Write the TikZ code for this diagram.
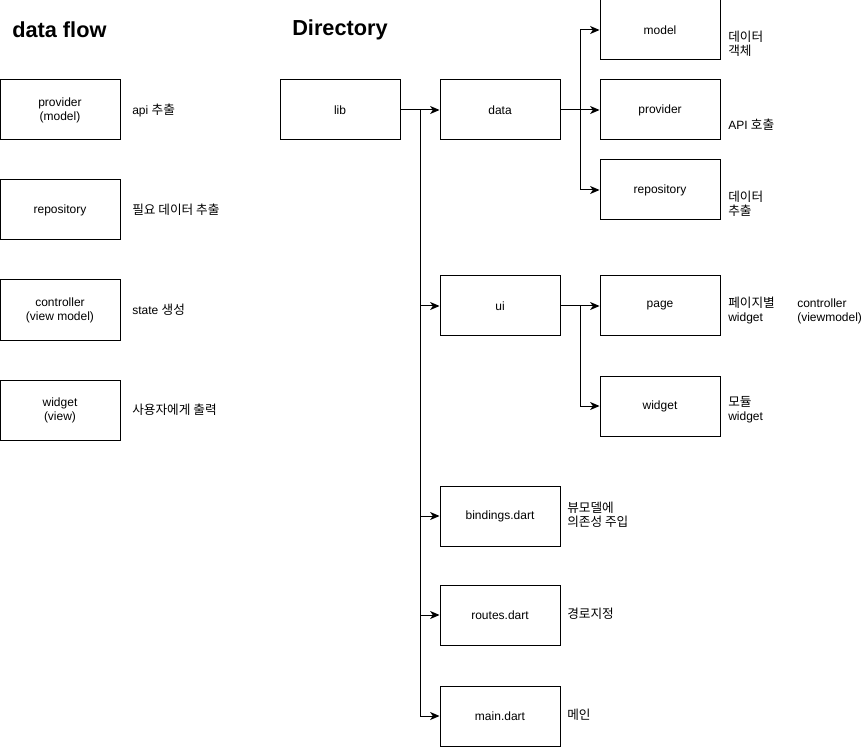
\documentclass[tikz,border=0pt]{standalone}
\usepackage{fontspec}
\setmainfont{Liberation Sans}
\newfontfamily\kr{Noto Sans CJK KR}
\usetikzlibrary{arrows.meta}
\newcommand{\K}[1]{{\kr\fontsize{9.5}{10.5}\selectfont #1}}
\begin{document}
\begin{tikzpicture}[x=0.75pt,y=-0.75pt,
  box/.style={draw, line width=0.75pt, minimum width=90pt, minimum height=45pt, inner sep=0pt,
    font=\fontsize{9}{10.5}\selectfont, align=center},
  lbl/.style={anchor=west, inner sep=0pt, font=\fontsize{9}{10.5}\selectfont, align=left},
  ttl/.style={anchor=west, inner sep=0pt, font=\fontsize{16.3}{19}\selectfont\bfseries},
  conn/.style={line width=0.75pt, -{Stealth[length=7pt,width=6pt,inset=2pt]}},
  wire/.style={line width=0.75pt}]
\useasboundingbox (0,0) rectangle (863,748);
% titles
\node[ttl] (t1) at (12,30) {data flow};
\node[ttl] (t2) at (292,30) {Directory};
% data flow column
\node[box] (pv) at (60,110) {provider\\(model)};
\node[box] (rp) at (60,210) {repository};
\node[box] (ct) at (60,310) {controller\\(view model)};
\node[box] (wg) at (60,410) {widget\\(view)};
\node[lbl] (lpv) at (132,110) {api \K{추출}};
\node[lbl] (lrp) at (132,210) {\K{필요 데이터 추출}};
\node[lbl] (lct) at (132,310) {state \K{생성}};
\node[lbl] (lwg) at (132,410) {\K{사용자에게 출력}};
% directory
\node[box] (lib) at (340,110) {lib};
\node[box] (data) at (500,110) {data};
\node[box] (ui) at (500,306) {ui};
\node[box] (bind) at (500,516) {bindings.dart};
\node[box] (routes) at (500,615) {routes.dart};
\node[box] (main) at (500,716) {main.dart};
\node[box] (model) at (660,30) {model};
\node[box] (prov) at (660,110) {provider};
\node[box] (repo) at (660,190) {repository};
\node[box] (page) at (660,306) {page};
\node[box] (widget) at (660,406) {widget};
% labels
\node[lbl] (lmodel) at (728,44) {\K{데이터}\\\K{객체}};
\node[lbl] (lprov) at (728,125) {API \K{호출}};
\node[lbl] (lrepo) at (728,204) {\K{데이터}\\\K{추출}};
\node[lbl] (lpage) at (728,311) {\K{페이지별}\\widget};
\node[lbl] (lctrl) at (797,311) {controller\\(viewmodel)};
\node[lbl] (lwid) at (728,410) {\K{모듈}\\widget};
\node[lbl] (lbind) at (567,515) {\K{뷰모델에}\\\K{의존성 주입}};
\node[lbl] (lroutes) at (567,614) {\K{경로지정}};
\node[lbl] (lmain) at (567,715) {\K{메인}};
% connectors
\coordinate (tr) at (420,110);
\coordinate (b1) at (580,110);
\coordinate (b2) at (580,306);
\draw[conn] (lib) -- (data);
\draw[conn] (tr) |- (ui);
\draw[conn] (tr) |- (bind);
\draw[conn] (tr) |- (routes);
\draw[conn] (tr) |- (main);
\draw[conn] (data) -- (prov);
\draw[conn] (b1) |- (model);
\draw[conn] (b1) |- (repo);
\draw[conn] (ui) -- (page);
\draw[conn] (b2) |- (widget);
\end{tikzpicture}
\end{document}
